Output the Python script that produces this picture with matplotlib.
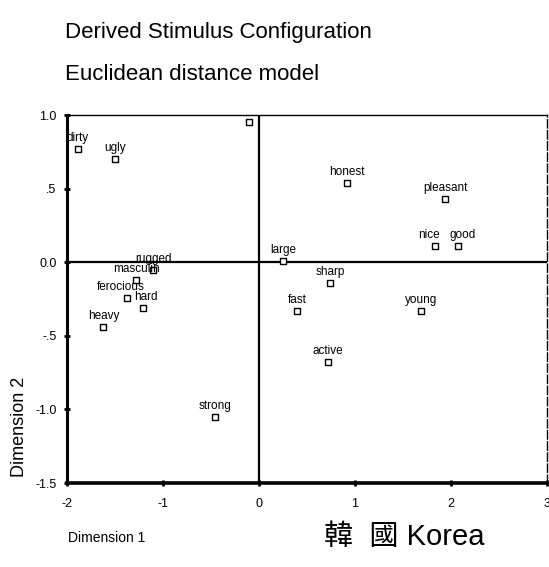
import matplotlib
matplotlib.use("Agg")
import matplotlib.pyplot as plt

# stimulus coordinates (dimension 1, dimension 2)
words = ["dirty", "ugly", "clean", "rugged", "masculin", "ferocious", "hard",
         "heavy", "strong", "large", "honest", "pleasant", "nice", "good",
         "sharp", "fast", "young", "active"]
dim1 = [-1.89, -1.50, -0.10, -1.10, -1.28, -1.37, -1.21,
        -1.62, -0.46, 0.25, 0.92, 1.94, 1.84, 2.07,
        0.74, 0.40, 1.69, 0.72]
dim2 = [0.77, 0.70, 0.95, -0.05, -0.12, -0.24, -0.31,
        -0.44, -1.05, 0.01, 0.54, 0.43, 0.11, 0.11,
        -0.14, -0.33, -0.33, -0.68]

xticks = [-2, -1, 0, 1, 2, 3]
xtick_labels = ["-2", "-1", "0", "1", "2", "3"]
yticks = [1.0, 0.5, 0.0, -0.5, -1.0, -1.5]
ytick_labels = ["1.0", ".5", "0.0", "-.5", "-1.0", "-1.5"]

# small sideways nudges so crowded labels don't sit on top of each other
nudge = {"nice": -5, "good": 4, "ferocious": -5, "hard": 2}

plt.rcParams["font.family"] = ["Liberation Sans", "DejaVu Sans"]

fig = plt.figure(figsize=(5.49, 5.67), dpi=100)
ax = fig.add_axes([0.122, 0.148, 0.874, 0.649])

# reference lines through the origin
ax.axhline(0, color="black", lw=1.6, zorder=1)
ax.axvline(0, color="black", lw=1.6, zorder=1)

ax.scatter(dim1, dim2, marker="s", s=15, facecolors="white",
           edgecolors="black", linewidths=1.0, zorder=3)

for w, x, y in zip(words, dim1, dim2):
    ax.annotate(w, (x, y), xytext=(nudge.get(w, 0), 8), textcoords="offset points",
                ha="center", va="center", fontsize=8.5, clip_on=True, zorder=4)

ax.set_xlim(-2, 3)
ax.set_ylim(-1.5, 1.0)
ax.set_xticks(xticks)
ax.set_xticklabels(xtick_labels)
ax.set_yticks(yticks)
ax.set_yticklabels(ytick_labels)
ax.tick_params(direction="inout", length=5, width=2, labelsize=9)
ax.tick_params(axis="x", pad=8)
ax.tick_params(axis="y", pad=5)

ax.spines["left"].set_linewidth(2.2)
ax.spines["bottom"].set_linewidth(2.6)
ax.spines["top"].set_linewidth(1.0)
ax.spines["right"].set_linewidth(1.0)
ax.spines["right"].set_linestyle((0, (6, 2)))

fig.text(0.118, 0.942, "Derived Stimulus Configuration", fontsize=16, va="center")
fig.text(0.118, 0.868, "Euclidean distance model", fontsize=16, va="center")
fig.text(0.035, 0.247, "Dimension 2", fontsize=13, rotation=90, ha="center", va="center")
fig.text(0.124, 0.051, "Dimension 1", fontsize=10, va="center")
fig.text(0.59, 0.053, "韓  國 Korea", fontsize=21, va="center",
         family=["Liberation Sans", "Noto Sans CJK TC"])

fig.savefig("out.png", dpi=100)
